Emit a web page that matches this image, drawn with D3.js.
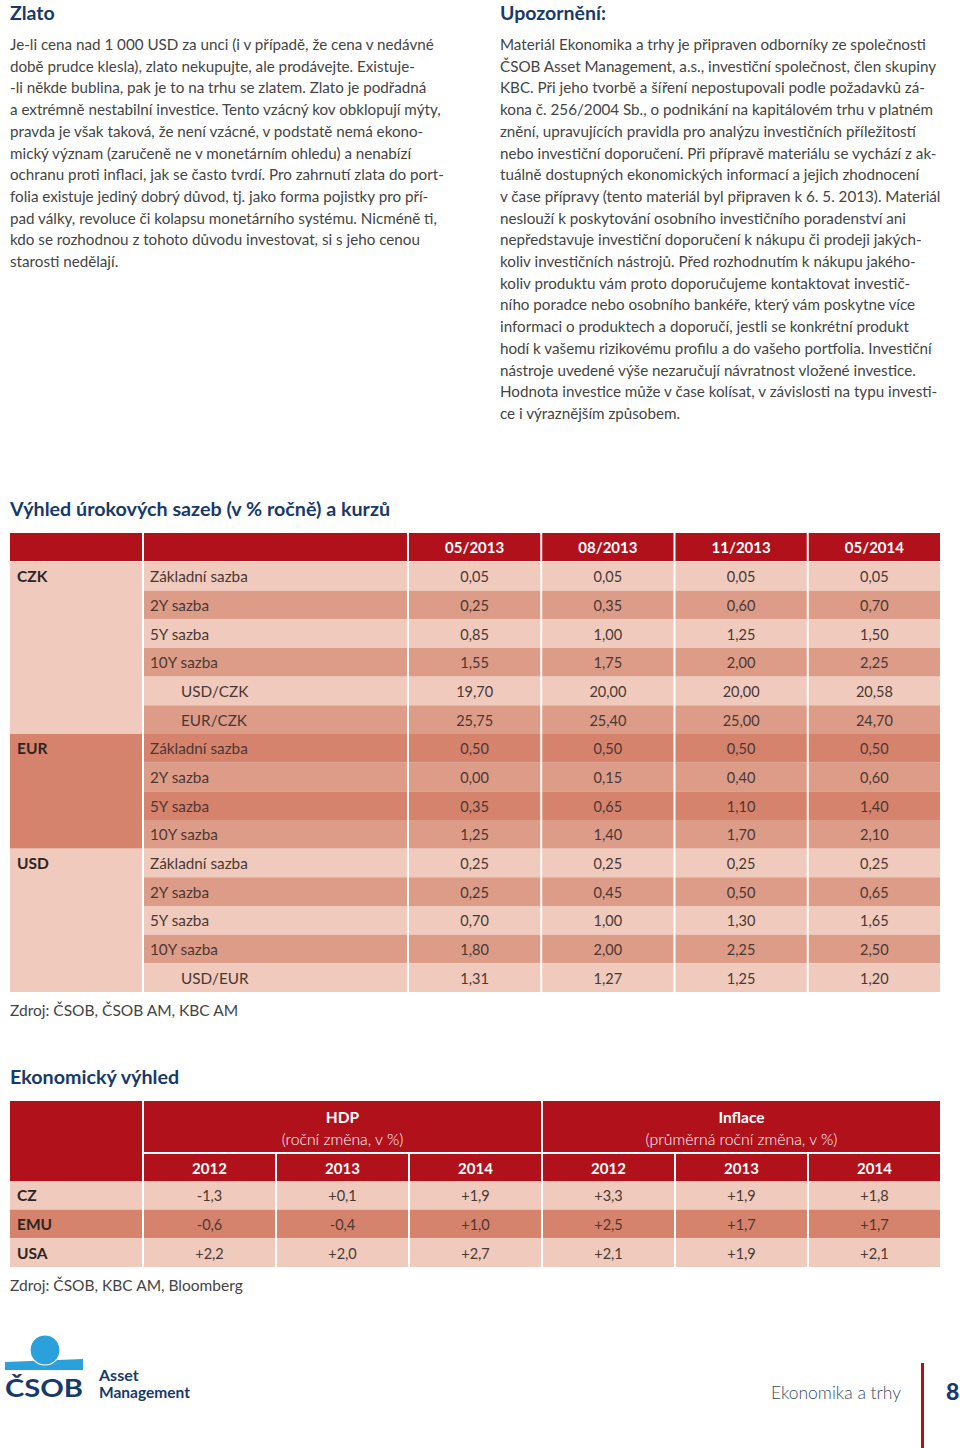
<!DOCTYPE html>
<html>
<head>
<meta charset="utf-8">
<script src="https://cdn.jsdelivr.net/npm/d3@7"></script>
<style>
  html, body { margin: 0; padding: 0; background: #fff; }
  svg { display: block; }
  text { font-family: Lato, "Open Sans", sans-serif; }
</style>
</head>
<body>
<svg id="page" width="960" height="1448"></svg>
<script>
// ---------------- DATA ----------------
const goldTitle = "Zlato";
const goldLines = [
  "Je-li cena nad 1 000 USD za unci (i v případě, že cena v nedávné",
  "době prudce klesla), zlato nekupujte, ale prodávejte. Existuje-",
  "-li někde bublina, pak je to na trhu se zlatem. Zlato je podřadná",
  "a extrémně nestabilní investice. Tento vzácný kov obklopují mýty,",
  "pravda je však taková, že není vzácné, v podstatě nemá ekono-",
  "mický význam (zaručeně ne v monetárním ohledu) a nenabízí",
  "ochranu proti inflaci, jak se často tvrdí. Pro zahrnutí zlata do port-",
  "folia existuje jediný dobrý důvod, tj. jako forma pojistky pro pří-",
  "pad války, revoluce či kolapsu monetárního systému. Nicméně ti,",
  "kdo se rozhodnou z tohoto důvodu investovat, si s jeho cenou",
  "starosti nedělají."
];
const noteTitle = "Upozornění:";
const noteLines = [
  "Materiál Ekonomika a trhy je připraven odborníky ze společnosti",
  "ČSOB Asset Management, a.s., investiční společnost, člen skupiny",
  "KBC. Při jeho tvorbě a šíření nepostupovali podle požadavků zá-",
  "kona č. 256/2004 Sb., o podnikání na kapitálovém trhu v platném",
  "znění, upravujících pravidla pro analýzu investičních příležitostí",
  "nebo investiční doporučení. Při přípravě materiálu se vychází z ak-",
  "tuálně dostupných ekonomických informací a jejich zhodnocení",
  "v čase přípravy (tento materiál byl připraven k 6. 5. 2013). Materiál",
  "neslouží k poskytování osobního investičního poradenství ani",
  "nepředstavuje investiční doporučení k nákupu či prodeji jakých-",
  "koliv investičních nástrojů. Před rozhodnutím k nákupu jakého-",
  "koliv produktu vám proto doporučujeme kontaktovat investič-",
  "ního poradce nebo osobního bankéře, který vám poskytne více",
  "informaci o produktech a doporučí, jestli se konkrétní produkt",
  "hodí k vašemu rizikovému profilu a do vašeho portfolia. Investiční",
  "nástroje uvedené výše nezaručují návratnost vložené investice.",
  "Hodnota investice může v čase kolísat, v závislosti na typu investi-",
  "ce i výraznějším způsobem."
];

const rateTitle = "Výhled úrokových sazeb (v % ročně) a kurzů";
const ratePeriods = ["05/2013", "08/2013", "11/2013", "05/2014"];
const rateGroups = ["CZK", "EUR", "USD"];
const rateLabels = ["Základní sazba", "2Y sazba", "5Y sazba", "10Y sazba", "USD/CZK", "EUR/CZK",
                    "Základní sazba", "2Y sazba", "5Y sazba", "10Y sazba",
                    "Základní sazba", "2Y sazba", "5Y sazba", "10Y sazba", "USD/EUR"];
const rateGroupOf = [0, 0, 0, 0, 0, 0, 1, 1, 1, 1, 2, 2, 2, 2, 2];
const rateIsFx = [false, false, false, false, true, true, false, false, false, false, false, false, false, false, true];
const rate0513 = [0.05, 0.25, 0.85, 1.55, 19.70, 25.75, 0.50, 0.00, 0.35, 1.25, 0.25, 0.25, 0.70, 1.80, 1.31];
const rate0813 = [0.05, 0.35, 1.00, 1.75, 20.00, 25.40, 0.50, 0.15, 0.65, 1.40, 0.25, 0.45, 1.00, 2.00, 1.27];
const rate1113 = [0.05, 0.60, 1.25, 2.00, 20.00, 25.00, 0.50, 0.40, 1.10, 1.70, 0.25, 0.50, 1.30, 2.25, 1.25];
const rate0514 = [0.05, 0.70, 1.50, 2.25, 20.58, 24.70, 0.50, 0.60, 1.40, 2.10, 0.25, 0.65, 1.65, 2.50, 1.20];
const rateSource = "Zdroj: ČSOB, ČSOB AM, KBC AM";

const econTitle = "Ekonomický výhled";
const econCountries = ["CZ", "EMU", "USA"];
const econBlocks = ["HDP", "Inflace"];
const econBlockSubs = ["(roční změna, v %)", "(průměrná roční změna, v %)"];
const econYears = ["2012", "2013", "2014"];
const gdp2012 = [-1.3, -0.6, 2.2];
const gdp2013 = [0.1, -0.4, 2.0];
const gdp2014 = [1.9, 1.0, 2.7];
const inf2012 = [3.3, 2.5, 2.1];
const inf2013 = [1.9, 1.7, 1.9];
const inf2014 = [1.8, 1.7, 2.1];
const econSource = "Zdroj: ČSOB, KBC AM, Bloomberg";

const footerTitle = "Ekonomika a trhy";
const pageNumber = "8";

// ---------------- STYLE ----------------
const NAVY = "#173a6a";
const RED = "#b1111b";
const LIGHT = "#efcabd";
const MED = "#dd9c88";
const DARK = "#d6836e";
const BODY = "#444444";
const CELLTXT = "#4a3833";

const cz = d3.formatLocale({decimal: ",", thousands: " ", grouping: [3], currency: ["", " Kč"], minus: "-"});
const fmt2 = cz.format(".2f");
const fmtSigned = cz.format("+.1f");

const svg = d3.select("#page");

// ---------------- TEXT COLUMNS ----------------
function textColumn(x, title, lines) {
  const g = svg.append("g");
  g.append("text").attr("x", x).attr("y", 20)
    .attr("font-size", 19.5).attr("font-weight", 700).attr("fill", NAVY).text(title);
  const y = d3.scaleLinear().domain([0, 1]).range([50, 71.7]);
  g.selectAll("text.line").data(lines).join("text")
    .attr("class", "line")
    .attr("x", x).attr("y", (d, i) => y(i))
    .attr("font-size", 15.2).attr("fill", BODY).text(d => d);
}
textColumn(10, goldTitle, goldLines);
textColumn(500, noteTitle, noteLines);

// ---------------- TABLE 1 ----------------
svg.append("text").attr("x", 10).attr("y", 516)
  .attr("font-size", 19.7).attr("font-weight", 700).attr("fill", NAVY).text(rateTitle);

const groupX = [10, 142], labelX = [144, 407];
const colX = d3.scaleBand().domain(ratePeriods).range([409, 940]).paddingInner(0.015);
const rowIdx = d3.range(rateLabels.length);
const rowY = d3.scaleBand().domain(rowIdx).range([562, 992]);
const headTop = 533, headBot = 561;

const t1 = svg.append("g");
const headCells = [{x0: groupX[0], x1: groupX[1]}, {x0: labelX[0], x1: labelX[1]}]
  .concat(ratePeriods.map(p => ({x0: colX(p), x1: colX(p) + colX.bandwidth(), label: p})));
t1.selectAll("rect.head").data(headCells).join("rect")
  .attr("x", d => d.x0).attr("y", headTop).attr("width", d => d.x1 - d.x0).attr("height", headBot - headTop)
  .attr("fill", RED);
t1.selectAll("text.head").data(headCells.filter(d => d.label)).join("text")
  .attr("x", d => (d.x0 + d.x1) / 2).attr("y", (headTop + headBot) / 2 + 6)
  .attr("text-anchor", "middle").attr("font-size", 15).attr("font-weight", 700).attr("fill", "#fff")
  .text(d => d.label);

function rowFill(i) {
  const g = rateGroupOf[i];
  const first = rateGroupOf.indexOf(g);
  const k = i - first;
  if (k % 2 === 1) return MED;
  return g === 1 ? DARK : LIGHT;
}
const groupSpans = rateGroups.map((name, gi) => {
  const rows = rowIdx.filter(i => rateGroupOf[i] === gi);
  return {name, gi, y0: rowY(rows[0]), y1: rowY(rows[rows.length - 1]) + rowY.bandwidth()};
});
t1.selectAll("rect.grp").data(groupSpans).join("rect")
  .attr("x", groupX[0]).attr("y", d => d.y0).attr("width", groupX[1] - groupX[0]).attr("height", d => d.y1 - d.y0)
  .attr("fill", d => d.gi === 1 ? DARK : LIGHT);
t1.selectAll("text.grp").data(groupSpans).join("text")
  .attr("x", 17).attr("y", d => d.y0 + rowY.bandwidth() / 2 + 6)
  .attr("font-size", 15.5).attr("font-weight", 700).attr("fill", "#2e2523").text(d => d.name);

t1.selectAll("rect.lab").data(rowIdx).join("rect")
  .attr("x", labelX[0]).attr("y", i => rowY(i)).attr("width", labelX[1] - labelX[0]).attr("height", rowY.bandwidth())
  .attr("fill", rowFill);
t1.selectAll("text.lab").data(rowIdx).join("text")
  .attr("x", i => rateIsFx[i] ? 181 : 150).attr("y", i => rowY(i) + rowY.bandwidth() / 2 + 6)
  .attr("font-size", 15.3).attr("font-weight", 400).attr("fill", CELLTXT).text(i => rateLabels[i]);

const rateSeries = [rate0513, rate0813, rate1113, rate0514];
const valCells = [];
ratePeriods.forEach((p, pi) => rowIdx.forEach(i => valCells.push({p, i, v: rateSeries[pi][i]})));
t1.selectAll("rect.val").data(valCells).join("rect")
  .attr("x", d => colX(d.p)).attr("y", d => rowY(d.i)).attr("width", colX.bandwidth()).attr("height", rowY.bandwidth())
  .attr("fill", d => rowFill(d.i));
t1.selectAll("text.val").data(valCells).join("text")
  .attr("x", d => colX(d.p) + colX.bandwidth() / 2).attr("y", d => rowY(d.i) + rowY.bandwidth() / 2 + 6)
  .attr("text-anchor", "middle").attr("font-size", 14.5).attr("fill", CELLTXT).text(d => fmt2(d.v));

svg.append("text").attr("x", 10).attr("y", 1016).attr("font-size", 15.5).attr("fill", BODY).text(rateSource);

// ---------------- TABLE 2 ----------------
svg.append("text").attr("x", 10).attr("y", 1084)
  .attr("font-size", 19.7).attr("font-weight", 700).attr("fill", NAVY).text(econTitle);

const t2 = svg.append("g");
const econCols = [];
econBlocks.forEach(b => econYears.forEach(y => econCols.push(b + "|" + y)));
const ecX = d3.scaleBand().domain(econCols).range([144, 940]).paddingInner(0.015);
const blockX = b => {
  const cols = econCols.filter(c => c.startsWith(b + "|"));
  return [ecX(cols[0]), ecX(cols[cols.length - 1]) + ecX.bandwidth()];
};
const h1Top = 1101, h1Bot = 1152, h2Top = 1154, h2Bot = 1181;
const ecY = d3.scaleBand().domain(econCountries).range([1181, 1267]);

t2.append("rect").attr("x", groupX[0]).attr("y", h1Top).attr("width", groupX[1] - groupX[0])
  .attr("height", h2Bot - h1Top).attr("fill", RED);
t2.selectAll("rect.blk").data(econBlocks).join("rect")
  .attr("x", b => blockX(b)[0]).attr("y", h1Top).attr("width", b => blockX(b)[1] - blockX(b)[0])
  .attr("height", h1Bot - h1Top).attr("fill", RED);
t2.selectAll("text.blk").data(econBlocks).join("text")
  .attr("x", b => (blockX(b)[0] + blockX(b)[1]) / 2).attr("y", 1123)
  .attr("text-anchor", "middle").attr("font-size", 15.5).attr("font-weight", 700).attr("fill", "#fff").text(b => b);
t2.selectAll("text.blksub").data(econBlocks).join("text")
  .attr("x", b => (blockX(b)[0] + blockX(b)[1]) / 2).attr("y", 1145)
  .attr("text-anchor", "middle").attr("font-size", 15.8).attr("font-weight", 300).attr("fill", "#fff")
  .text((b, i) => econBlockSubs[i]);
t2.selectAll("rect.yr").data(econCols).join("rect")
  .attr("x", c => ecX(c)).attr("y", h2Top).attr("width", ecX.bandwidth()).attr("height", h2Bot - h2Top).attr("fill", RED);
t2.selectAll("text.yr").data(econCols).join("text")
  .attr("x", c => ecX(c) + ecX.bandwidth() / 2).attr("y", (h2Top + h2Bot) / 2 + 6)
  .attr("text-anchor", "middle").attr("font-size", 15).attr("font-weight", 700).attr("fill", "#fff")
  .text(c => c.split("|")[1]);

const econFill = (ci) => ci === 1 ? DARK : LIGHT;
t2.selectAll("rect.cty").data(econCountries).join("rect")
  .attr("x", groupX[0]).attr("y", c => ecY(c)).attr("width", groupX[1] - groupX[0]).attr("height", ecY.bandwidth())
  .attr("fill", (c, i) => econFill(i));
t2.selectAll("text.cty").data(econCountries).join("text")
  .attr("x", 17).attr("y", c => ecY(c) + ecY.bandwidth() / 2 + 6)
  .attr("font-size", 15.5).attr("font-weight", 700).attr("fill", "#2e2523").text(c => c);

const econSeries = [gdp2012, gdp2013, gdp2014, inf2012, inf2013, inf2014];
const econCells = [];
econCols.forEach((c, k) => econCountries.forEach((cty, ci) => econCells.push({c, cty, ci, v: econSeries[k][ci]})));
t2.selectAll("rect.ev").data(econCells).join("rect")
  .attr("x", d => ecX(d.c)).attr("y", d => ecY(d.cty)).attr("width", ecX.bandwidth()).attr("height", ecY.bandwidth())
  .attr("fill", d => econFill(d.ci));
t2.selectAll("text.ev").data(econCells).join("text")
  .attr("x", d => ecX(d.c) + ecX.bandwidth() / 2).attr("y", d => ecY(d.cty) + ecY.bandwidth() / 2 + 6)
  .attr("text-anchor", "middle").attr("font-size", 14.5).attr("fill", CELLTXT).text(d => fmtSigned(d.v));

svg.append("text").attr("x", 10).attr("y", 1291).attr("font-size", 15.5).attr("fill", BODY).text(econSource);

// ---------------- FOOTER ----------------
const logo = svg.append("g");
const LBLUE = "#2aa1da";
logo.append("path").attr("d", "M5,1362 L83,1359 L83,1370 L5,1370 Z").attr("fill", LBLUE);
logo.append("circle").attr("cx", 45).attr("cy", 1350).attr("r", 15).attr("fill", LBLUE)
  .attr("stroke", "#fff").attr("stroke-width", 1.2);
logo.append("text").attr("x", 5).attr("y", 1397).attr("font-family", "DejaVu Sans")
  .attr("font-size", 25).attr("font-weight", 700).attr("fill", NAVY)
  .attr("textLength", 78).attr("lengthAdjust", "spacingAndGlyphs").text("ČSOB");
logo.append("text").attr("x", 99).attr("y", 1381).attr("font-size", 16).attr("font-weight", 700)
  .attr("fill", NAVY).text("Asset");
logo.append("text").attr("x", 99).attr("y", 1398).attr("font-size", 16).attr("font-weight", 700)
  .attr("fill", NAVY).attr("textLength", 91).attr("lengthAdjust", "spacingAndGlyphs").text("Management");

svg.append("text").attr("x", 901).attr("y", 1399).attr("text-anchor", "end")
  .attr("font-size", 17.5).attr("font-weight", 300).attr("fill", "#3b4c5c").text(footerTitle);
svg.append("rect").attr("x", 921).attr("y", 1363).attr("width", 3).attr("height", 85).attr("fill", RED);
svg.append("text").attr("x", 946).attr("y", 1400).attr("font-size", 23).attr("font-weight", 900)
  .attr("fill", NAVY).text(pageNumber);
</script>
</body>
</html>
